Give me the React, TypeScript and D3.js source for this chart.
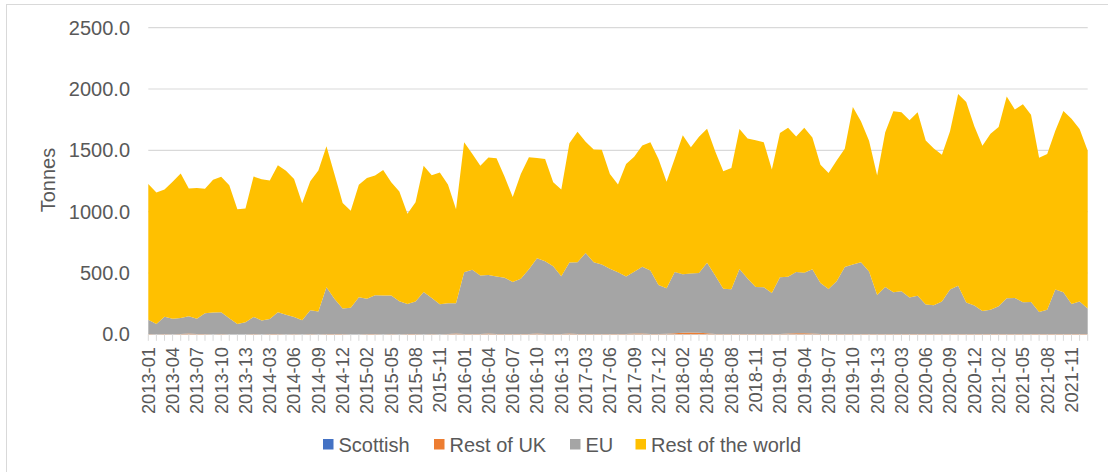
import React from "react";
import * as d3 from "d3";

// Four-weekly periods, 13 per year
const years = [2013, 2014, 2015, 2016, 2017, 2018, 2019, 2020, 2021];
const periodsPerYear = 13;
const periods: string[] = years.flatMap((y) =>
  d3.range(1, periodsPerYear + 1).map((p) => `${y}-${String(p).padStart(2, "0")}`)
);

const seriesNames = ["Scottish", "Rest of UK", "EU", "Rest of the world"];
const seriesColors = ["#4472C4", "#ED7D31", "#A5A5A5", "#FFC000"];

const scottish = [
  0, 0, 1, 0, 0, 0, 0, 1, 0, 0, 0, 0, 0, 1, 0, 0, 0, 0, 0, 0,
  1, 0, 0, 0, 0, 0, 0, 0, 1, 0, 0, 0, 0, 0, 0, 0, 0, 1, 0, 0,
  0, 0, 0, 0, 0, 1, 0, 0, 0, 0, 0, 0, 0, 0, 0, 1, 0, 0, 0, 0,
  0, 0, 0, 0, 1, 0, 0, 0, 0, 0, 0, 0, 0, 0, 1, 0, 0, 0, 0, 0,
  0, 0, 0, 0, 0, 0, 1, 0, 0, 0, 0, 0, 0, 0, 0, 0, 0, 1, 0, 0,
  0, 0, 0, 0, 0, 0, 0, 1, 0, 0, 0, 0, 0, 0, 0, 0, 0,
];

const restOfUK = [
  2, 1, 2, 1, 3, 6, 2, 1, 1, 2, 1, 0, 1, 2, 1, 2, 3, 1, 2, 1,
  2, 1, 2, 3, 2, 1, 1, 2, 2, 1, 2, 1, 3, 2, 1, 2, 1, 2, 6, 3,
  2, 2, 6, 2, 3, 2, 2, 3, 7, 3, 2, 3, 6, 3, 2, 2, 3, 2, 3, 2,
  7, 7, 3, 2, 3, 9, 12, 14, 12, 9, 3, 2, 3, 2, 2, 3, 2, 3, 3, 7,
  9, 9, 6, 2, 3, 2, 2, 3, 2, 2, 3, 2, 2, 3, 2, 2, 3, 2, 2, 3,
  2, 2, 3, 2, 2, 3, 2, 2, 3, 2, 2, 3, 2, 2, 3, 2, 2,
];

const eu = [
  117, 84, 141, 125, 130, 141, 125, 169, 177, 177, 130, 84, 98, 139, 111, 122, 177, 158, 139, 114,
  193, 185, 381, 285, 209, 215, 302, 288, 315, 315, 315, 269, 245, 266, 343, 294, 245, 250, 247, 503,
  525, 478, 478, 470, 459, 424, 451, 528, 614, 593, 552, 470, 579, 585, 661, 585, 566, 533, 503, 470,
  503, 544, 517, 400, 372, 498, 478, 481, 487, 574, 477, 370, 364, 530, 451, 383, 381, 334, 462, 462,
  498, 492, 525, 416, 367, 430, 546, 566, 585, 511, 318, 383, 340, 348, 299, 313, 239, 234, 266, 362,
  394, 258, 231, 188, 198, 226, 291, 294, 258, 261, 179, 198, 364, 340, 245, 266, 209,
];

const restOfWorld = [
  1106, 1071, 1036, 1117, 1178, 1042, 1066, 1016, 1082, 1106, 1085, 936, 927, 1144, 1153, 1131, 1199, 1174, 1125, 954,
  1052, 1150, 1150, 1015, 859, 791, 916, 984, 976, 1023, 922, 895, 734, 808, 1030, 1000, 1074, 968, 767, 1060,
  946, 895, 957, 963, 822, 693, 854, 912, 816, 834, 685, 707, 973, 1063, 908, 918, 935, 772, 715, 917,
  938, 989, 1046, 1027, 868, 924, 1134, 1030, 1112, 1093, 1013, 957, 990, 1142, 1142, 1197, 1182, 1006, 1177, 1215,
  1106, 1183, 1074, 965, 946, 986, 963, 1285, 1150, 1066, 973, 1262, 1476, 1460, 1444, 1495, 1338, 1278, 1197, 1291,
  1563, 1634, 1463, 1348, 1436, 1462, 1647, 1536, 1615, 1528, 1259, 1270, 1294, 1479, 1509, 1406, 1286,
];

const yTicks = [0, 500, 1000, 1500, 2000, 2500];

const W = 1108;
const H = 472;
const FONT = "'Liberation Sans', Arial, Helvetica, sans-serif";
const TEXT = "#595959";
const GRID = "#d9d9d9";

export default function App() {
  const rows = periods.map((p, i) => ({
    period: p,
    Scottish: scottish[i],
    "Rest of UK": restOfUK[i],
    EU: eu[i],
    "Rest of the world": restOfWorld[i],
  }));

  const x = d3.scalePoint<string>().domain(periods).range([148.3, 1087.7]).padding(0);
  const y = d3.scaleLinear().domain([0, 2500]).range([334.3, 27.7]);

  const stacked = d3.stack<any>().keys(seriesNames)(rows);
  const area = d3
    .area<any>()
    .x((d) => x(d.data.period) as number)
    .y0((d) => y(d[0]))
    .y1((d) => y(d[1]));

  const [x0, x1] = x.range();

  const legendX = [323, 434, 570, 635.5];

  return (
    <svg
      width={W}
      height={H}
      style={{ position: "absolute", left: 0, top: 0, display: "block", background: "#fff" }}
      fontFamily={FONT}
    >
      <rect x={6.5} y={4.5} width={W + 10} height={H + 10} fill="#fff" stroke={GRID} strokeWidth={1} />

      {/* horizontal gridlines */}
      {yTicks.map((t) => (
        <line key={t} x1={x0} x2={x1} y1={y(t)} y2={y(t)} stroke={GRID} strokeWidth={1.2} />
      ))}

      {/* stacked areas */}
      {stacked.map((s, k) => (
        <path key={s.key} d={area(s) as string} fill={seriesColors[k]} />
      ))}

      {/* category ticks */}
      {periods.map((p) => (
        <line key={p} x1={x(p)} x2={x(p)} y1={334.3} y2={340.8} stroke={GRID} strokeWidth={1} />
      ))}

      {/* y-axis labels */}
      {yTicks.map((t) => (
        <text key={t} x={130} y={y(t)} dy="0.35em" textAnchor="end" fontSize={20} fill={TEXT}>
          {d3.format(".1f")(t)}
        </text>
      ))}
      <text
        transform={`translate(48,180) rotate(-90)`}
        textAnchor="middle"
        dy="0.35em"
        fontSize={20}
        fill={TEXT}
      >
        Tonnes
      </text>

      {/* x-axis labels, every third period */}
      {periods
        .filter((_, i) => i % 3 === 0)
        .map((p) => (
          <text
            key={p}
            transform={`translate(${x(p)},347) rotate(-90)`}
            textAnchor="end"
            dy="0.35em"
            fontSize={18.3}
            fill={TEXT}
          >
            {p}
          </text>
        ))}

      {/* legend */}
      {seriesNames.map((name, k) => (
        <g key={name} transform={`translate(${legendX[k]},0)`}>
          <rect x={0} y={439} width={10.5} height={10.5} fill={seriesColors[k]} />
          <text x={15.5} y={444.5} dy="0.35em" fontSize={20} fill={TEXT}>
            {name}
          </text>
        </g>
      ))}
    </svg>
  );
}
